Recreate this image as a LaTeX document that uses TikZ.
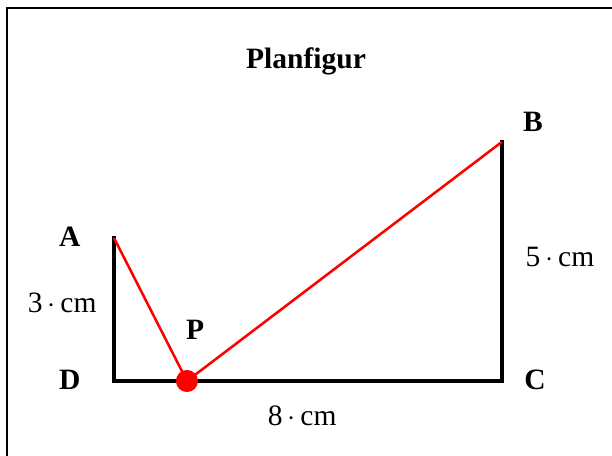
\documentclass[tikz,border=0pt]{standalone}
\usepackage{fontspec}
\setmainfont{Liberation Serif}
\usetikzlibrary{positioning}
\begin{document}
\begin{tikzpicture}[x=1cm, y=1cm, font=\fontsize{17.5}{20}\selectfont]
\tikzset{
  side/.style={line width=2.4pt, line cap=rect},
  redline/.style={red, line width=1.5pt},
  corner/.style={font=\fontsize{17.5}{20}\selectfont\bfseries},
  frame/.style={line width=1.2pt},
}
\useasboundingbox (-2.375,-1.542) rectangle (10.375,7.9375);
\draw[frame] (-2.23,-3) rectangle (12,7.77);
% corners of the figure
\coordinate (d) at (0,0);
\coordinate (a) at (0,2.98);
\coordinate (c) at (8.08,0);
\coordinate (b) at (8.08,4.98);
\coordinate (p) at (1.52,0);
\draw[side] (a) -- (d) -- (c) -- (b);
\draw[redline] (a) -- (p) -- (b);
\fill[red] (p) circle (0.23);
\node[corner, anchor=base] (title) at (4.0,6.52) {Planfigur};
\node[corner] (labA) at (-0.92,3.0) {A};
\node[corner] (labB) at (8.73,5.40) {B};
\node[corner] (labC) at (8.77,0.02) {C};
\node[corner] (labD) at (-0.92,0.02) {D};
\node[corner] (labP) at (1.69,1.06) {P};
\node (lenAD) at (-1.08,1.62) {3\,$\cdot$\,cm};
\node (lenBC) at (9.29,2.58) {5\,$\cdot$\,cm};
\node[anchor=base] (lenDC) at (3.92,-0.92) {8\,$\cdot$\,cm};
\end{tikzpicture}
\end{document}
